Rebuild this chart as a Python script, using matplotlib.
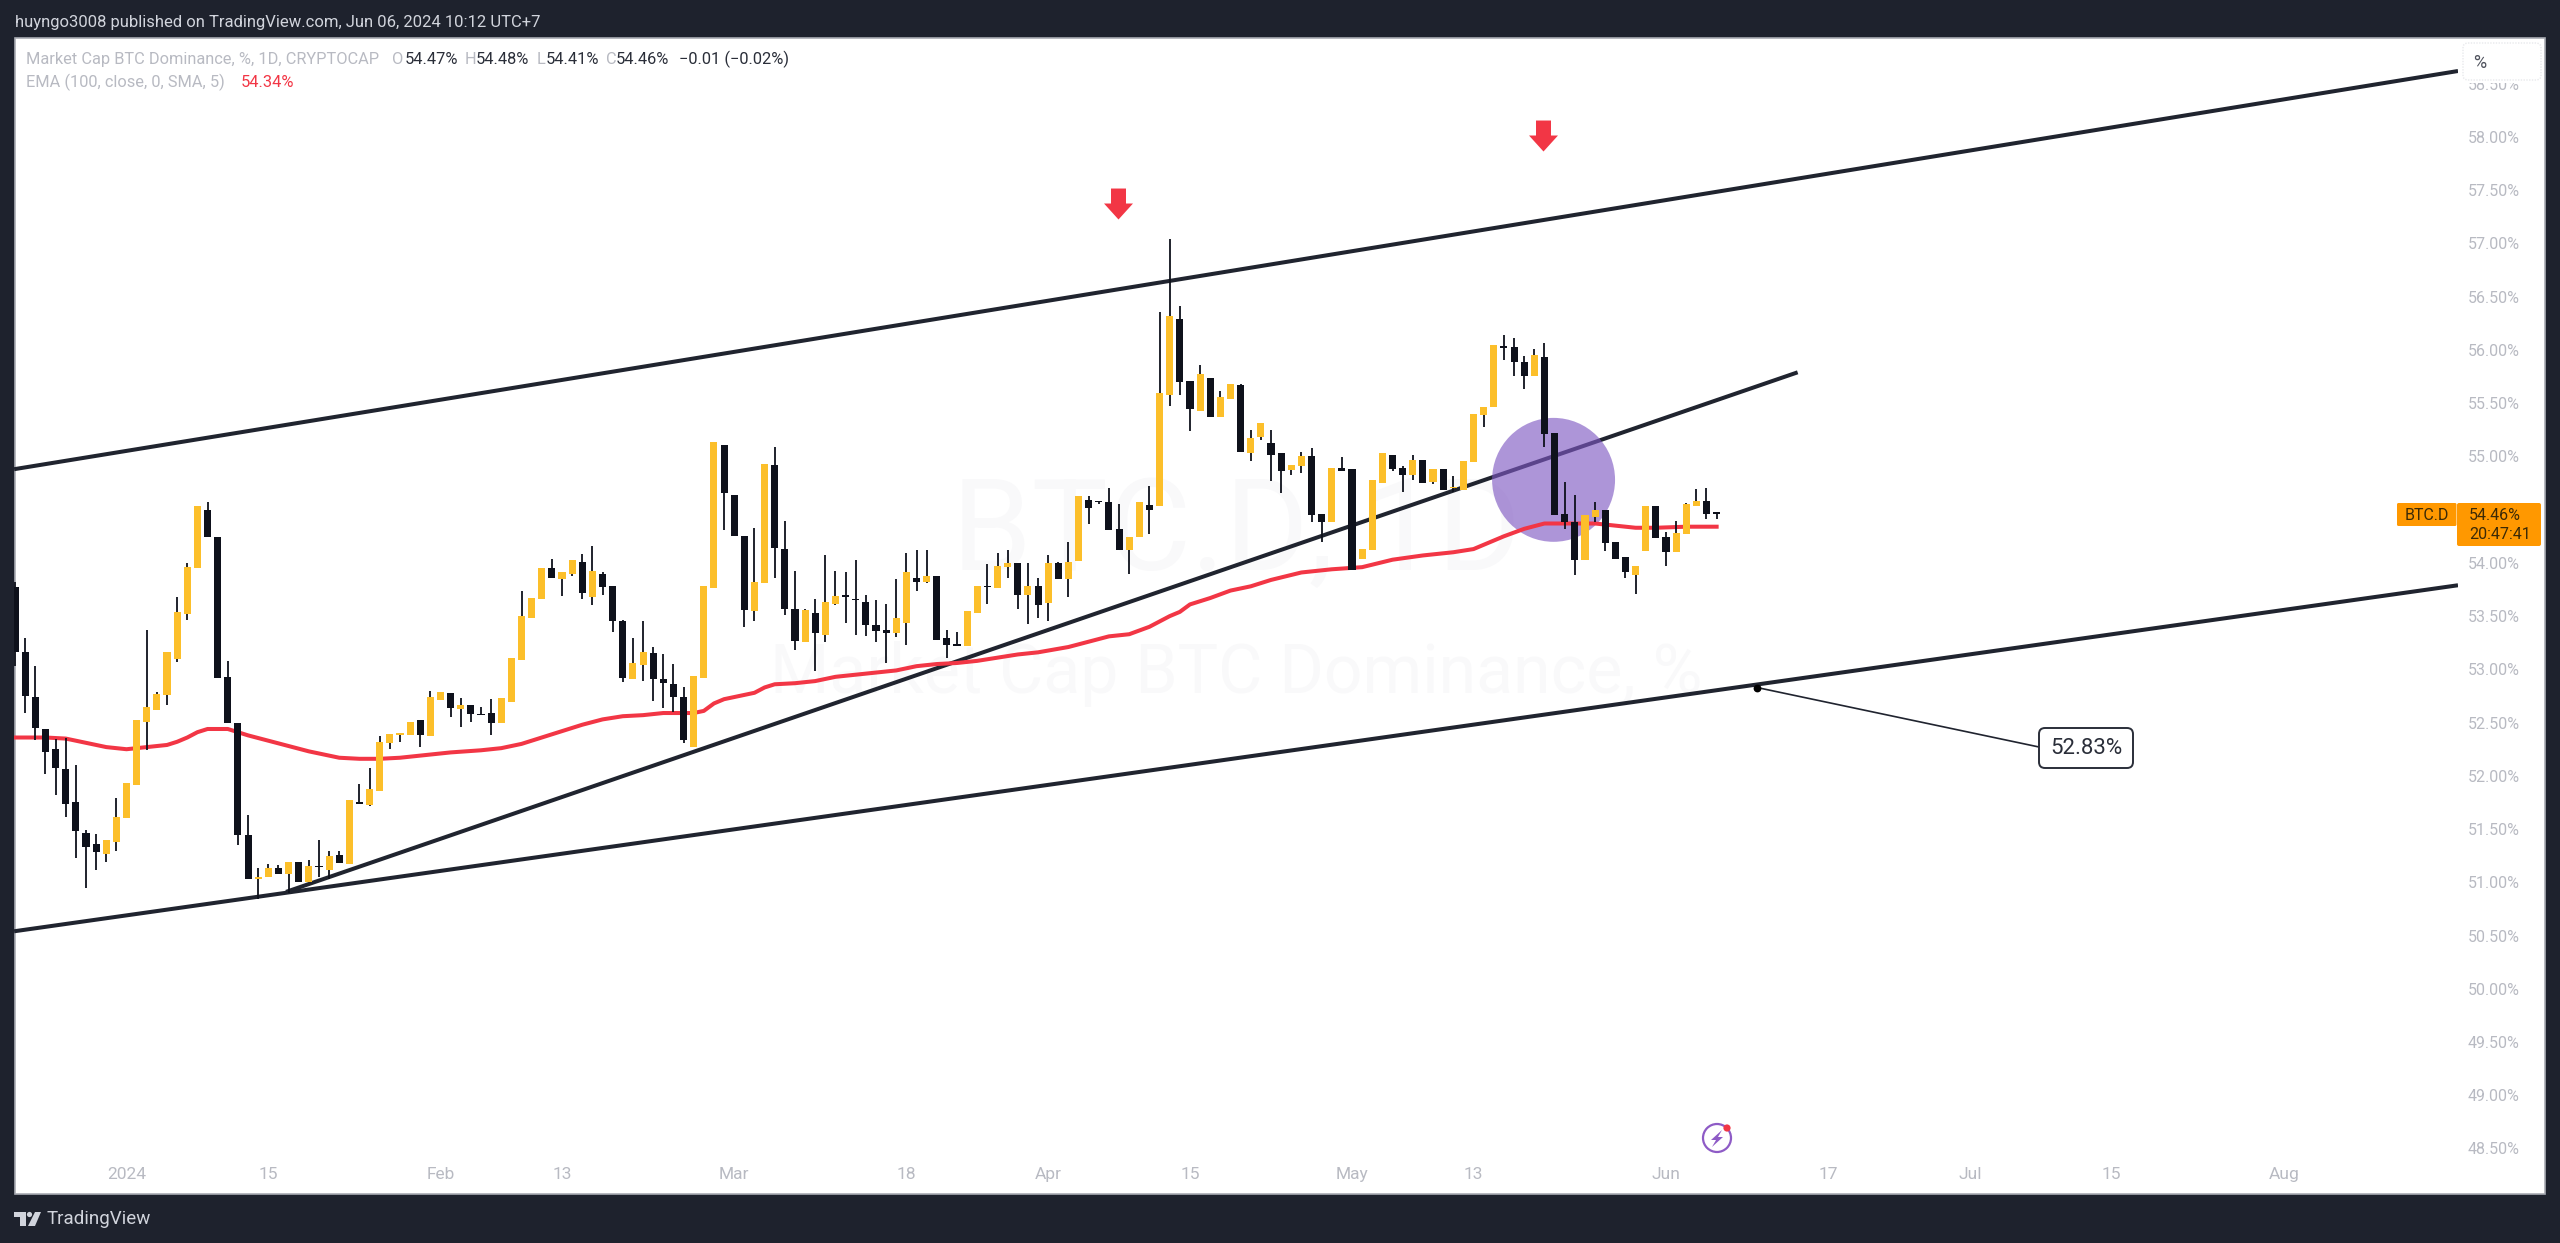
import matplotlib
matplotlib.use("Agg")
import matplotlib.pyplot as plt
from matplotlib.patches import Circle, Ellipse, FancyBboxPatch, Polygon, Rectangle
from matplotlib.path import Path

plt.rcParams['font.family'] = ['Roboto', 'DejaVu Sans']

# =========================
# data (percent, one candle per day)
# =========================
first_day = -11

opens = [
    53.77, 53.16, 52.74, 52.44, 52.25, 52.06, 51.75, 51.46, 51.36, 51.27,
    51.38, 51.60, 51.91, 52.51, 52.62, 52.76, 53.10, 53.52, 53.95, 54.50,
    54.24, 52.93, 52.50, 51.44, 51.03, 51.05, 51.13, 51.08, 51.19, 51.00,
    51.15, 51.12, 51.26, 51.17, 51.75, 51.73, 51.86, 52.31, 52.38, 52.38,
    52.52, 52.37, 52.71, 52.78, 52.63, 52.67, 52.58, 52.59, 52.50, 52.69,
    53.09, 53.48, 53.66, 53.95, 53.85, 53.90, 54.01, 53.68, 53.90, 53.78,
    53.45, 52.91, 53.04, 53.15, 52.91, 52.86, 52.74, 52.27, 52.92, 53.76,
    55.11, 54.64, 54.25, 53.55, 53.81, 54.92, 54.13, 53.57, 53.26, 53.53,
    53.32, 53.61, 53.69, 53.66, 53.63, 53.42, 53.37, 53.34, 53.44, 53.86,
    53.82, 53.88, 53.29, 53.24, 53.22, 53.53, 53.78, 53.76, 53.96, 54.00,
    53.70, 53.78, 53.62, 54.00, 53.85, 54.02, 54.59, 54.58, 54.57, 54.32,
    54.12, 54.24, 54.54, 54.53, 55.58, 56.29, 55.71, 55.43, 55.74, 55.37,
    55.54, 55.67, 55.03, 55.18, 55.13, 55.03, 54.87, 54.91, 55.00, 54.46,
    54.38, 54.89, 54.88, 54.04, 54.12, 54.75, 55.01, 54.89, 54.83, 54.97,
    54.76, 54.88, 54.70, 54.68, 54.95, 55.39, 55.46, 56.03, 56.03, 55.89,
    55.76, 55.93, 55.22, 54.46, 54.38, 54.03, 54.43, 54.50, 54.20, 54.06,
    53.89, 54.11, 54.53, 54.24, 54.10, 54.27, 54.53, 54.58, 54.47,
]
highs = [
    53.82, 53.29, 53.03, 52.44, 52.35, 52.36, 52.10, 51.49, 51.45, 51.40,
    51.79, 51.93, 52.52, 53.37, 52.79, 53.16, 53.68, 54.00, 54.53, 54.57,
    54.24, 53.08, 52.50, 51.63, 51.13, 51.17, 51.16, 51.19, 51.19, 51.21,
    51.40, 51.29, 51.29, 51.77, 51.92, 52.07, 52.37, 52.39, 52.40, 52.51,
    52.52, 52.80, 52.79, 52.78, 52.73, 52.67, 52.65, 52.72, 52.73, 53.11,
    53.74, 53.67, 53.95, 54.04, 53.91, 54.03, 54.08, 54.16, 53.91, 53.78,
    53.46, 53.29, 53.45, 53.21, 53.14, 53.05, 52.83, 52.94, 53.78, 55.14,
    55.11, 54.64, 54.25, 54.33, 54.93, 55.09, 54.39, 53.92, 53.57, 53.66,
    54.07, 53.92, 53.91, 54.03, 53.70, 53.65, 53.61, 53.85, 54.09, 54.12,
    54.12, 53.88, 53.37, 53.35, 53.55, 53.78, 53.99, 54.09, 54.12, 54.00,
    54.00, 53.86, 54.07, 54.01, 54.20, 54.63, 54.63, 54.58, 54.70, 54.55,
    54.24, 54.57, 54.72, 56.36, 57.04, 56.41, 55.71, 55.86, 55.74, 55.61,
    55.68, 55.68, 55.25, 55.31, 55.25, 55.03, 54.92, 55.04, 55.08, 54.46,
    54.89, 54.99, 54.88, 54.13, 54.78, 55.03, 55.01, 54.91, 55.01, 54.97,
    54.88, 54.88, 54.82, 54.96, 55.40, 55.46, 56.05, 56.14, 56.11, 55.94,
    56.01, 56.07, 55.22, 54.76, 54.64, 54.45, 54.57, 54.50, 54.20, 54.06,
    53.97, 54.53, 54.53, 54.29, 54.39, 54.56, 54.69, 54.70, 54.48,
]
lows = [
    53.03, 52.59, 52.34, 52.02, 51.82, 51.61, 51.23, 50.95, 51.12, 51.19,
    51.29, 51.60, 51.91, 52.24, 52.62, 52.67, 53.07, 53.46, 53.95, 54.24,
    52.92, 52.50, 51.35, 51.03, 50.84, 51.05, 51.08, 50.90, 51.00, 51.00,
    51.05, 51.03, 51.18, 51.17, 51.74, 51.72, 51.86, 52.25, 52.32, 52.38,
    52.27, 52.37, 52.71, 52.55, 52.46, 52.51, 52.57, 52.38, 52.50, 52.69,
    53.09, 53.48, 53.66, 53.86, 53.69, 53.88, 53.66, 53.60, 53.70, 53.35,
    52.88, 52.91, 52.89, 52.70, 52.64, 52.60, 52.31, 52.27, 52.92, 53.76,
    54.31, 54.25, 53.40, 53.45, 53.81, 53.86, 53.51, 53.18, 53.26, 52.98,
    53.26, 53.60, 53.44, 53.32, 53.31, 53.26, 53.06, 53.30, 53.23, 53.74,
    53.81, 53.28, 53.11, 53.22, 53.22, 53.53, 53.61, 53.76, 53.86, 53.57,
    53.43, 53.48, 53.45, 53.85, 53.68, 54.02, 54.37, 54.55, 54.31, 54.12,
    53.90, 54.24, 54.27, 54.53, 55.47, 55.58, 55.24, 55.43, 55.37, 55.37,
    55.54, 55.04, 54.96, 55.15, 54.77, 54.66, 54.83, 54.84, 54.38, 54.20,
    54.38, 54.86, 53.93, 54.04, 54.12, 54.75, 54.86, 54.67, 54.78, 54.75,
    54.74, 54.68, 54.67, 54.68, 54.95, 55.28, 55.46, 55.91, 55.76, 55.63,
    55.76, 55.09, 54.45, 54.32, 53.89, 54.03, 54.38, 54.11, 54.04, 53.86,
    53.71, 54.11, 54.23, 53.97, 54.10, 54.27, 54.53, 54.41, 54.41,
]
closes = [
    53.16, 52.75, 52.45, 52.22, 52.07, 51.74, 51.48, 51.33, 51.28, 51.40,
    51.61, 51.93, 52.52, 52.65, 52.77, 53.16, 53.54, 53.96, 54.53, 54.24,
    52.92, 52.50, 51.44, 51.03, 51.05, 51.13, 51.08, 51.19, 51.00, 51.15,
    51.14, 51.25, 51.18, 51.77, 51.74, 51.88, 52.32, 52.39, 52.40, 52.51,
    52.38, 52.74, 52.79, 52.64, 52.67, 52.58, 52.57, 52.50, 52.73, 53.11,
    53.50, 53.67, 53.95, 53.86, 53.91, 54.03, 53.72, 53.92, 53.77, 53.45,
    52.92, 53.06, 53.16, 52.91, 52.87, 52.74, 52.34, 52.94, 53.78, 55.14,
    54.66, 54.25, 53.56, 53.82, 54.93, 54.14, 53.57, 53.27, 53.56, 53.34,
    53.63, 53.69, 53.68, 53.65, 53.42, 53.36, 53.34, 53.48, 53.91, 53.82,
    53.88, 53.28, 53.23, 53.22, 53.55, 53.78, 53.77, 53.97, 54.00, 53.70,
    53.78, 53.60, 54.00, 53.85, 54.01, 54.63, 54.52, 54.57, 54.31, 54.12,
    54.24, 54.57, 54.50, 55.60, 56.32, 55.70, 55.45, 55.77, 55.37, 55.56,
    55.68, 55.04, 55.17, 55.31, 55.01, 54.86, 54.92, 55.00, 54.45, 54.38,
    54.89, 54.86, 53.93, 54.13, 54.78, 55.03, 54.88, 54.83, 54.97, 54.75,
    54.88, 54.68, 54.71, 54.96, 55.40, 55.46, 56.05, 56.02, 55.89, 55.76,
    55.95, 55.21, 54.45, 54.38, 54.03, 54.45, 54.50, 54.19, 54.04, 53.91,
    53.97, 54.53, 54.23, 54.10, 54.28, 54.55, 54.58, 54.46, 54.46,
]

# EMA 100, days since 1 Jan 2024 and value, read at the visible bends
ema_days = [
    -11, -8, -6, -4, -2, 0, 2, 4, 5, 6, 7, 8, 9, 10, 11, 12, 14, 16, 18, 20,
    21, 23, 25, 27, 29, 32, 35, 37, 39, 41, 43, 45, 47, 49, 51, 53, 56, 57, 58,
    59, 60, 61, 62, 63, 64, 66, 68, 70, 72, 74, 76, 78, 80, 82, 84, 86, 88, 90,
    93, 95, 97, 99, 101, 102, 103, 104, 105, 107, 109, 111, 113, 116, 119, 122,
    125, 128, 131, 133, 134, 136, 138, 140, 142, 145, 147, 149, 151, 154, 157,
]
ema_values = [
    52.36, 52.36, 52.35, 52.31, 52.27, 52.25, 52.27, 52.29, 52.32, 52.36,
    52.41, 52.44, 52.44, 52.44, 52.41, 52.38, 52.33, 52.28, 52.23, 52.19,
    52.17, 52.16, 52.16, 52.17, 52.19, 52.22, 52.24, 52.26, 52.30, 52.36,
    52.42, 52.48, 52.53, 52.56, 52.57, 52.59, 52.59, 52.61, 52.68, 52.72,
    52.74, 52.76, 52.78, 52.83, 52.86, 52.87, 52.89, 52.93, 52.95, 52.97,
    52.99, 53.03, 53.05, 53.06, 53.08, 53.11, 53.14, 53.16, 53.21, 53.26,
    53.31, 53.33, 53.40, 53.45, 53.50, 53.54, 53.61, 53.67, 53.74, 53.78,
    53.84, 53.91, 53.94, 53.96, 54.03, 54.07, 54.10, 54.13, 54.17, 54.25,
    54.32, 54.37, 54.37, 54.37, 54.35, 54.33, 54.33, 54.34, 54.34,
]

# drawings: (day, percent) end points
channel_top = ([-11.1, 230.2], [54.88, 58.62])
channel_bottom = ([-11.1, 230.2], [50.54, 53.79])
support_line = ([15.75, 165.0], [50.91, 55.79])
note_day, note_value = 161.0, 52.83
arrow_days = [97.9, 139.9]
arrow_tips = [57.23, 57.87]

price_ticks = [48.5, 49.0, 49.5, 50.0, 50.5, 51.0, 51.5, 52.0, 52.5, 53.0, 53.5,
               54.0, 54.5, 55.0, 55.5, 56.0, 56.5, 57.0, 57.5, 58.0, 58.5]
time_ticks = [0, 14, 31, 43, 60, 77, 91, 105, 121, 133, 152, 168, 182, 196, 213]
time_labels = ["2024", "15", "Feb", "13", "Mar", "18", "Apr", "15", "May", "13",
               "Jun", "17", "Jul", "15", "Aug"]

# =========================
# colours
# =========================
DARK = "#1e222d"
INK = "#0e111b"
LINE = "#20242f"
UP = "#fcbf2a"
RED = "#f23645"
GREY = "#b8bac2"
ORANGE = "#ff9800"
W, H = 2560, 1243


def axes_rect(left, top, right, bottom):
    return [left / W, 1 - bottom / H, (right - left) / W, (bottom - top) / H]


fig = plt.figure(figsize=(W / 100, H / 100), dpi=100, facecolor=DARK)

# frame and panel, in picture pixels
back = fig.add_axes([0, 0, 1, 1], zorder=0)
back.set_xlim(0, W)
back.set_ylim(H, 0)
back.axis('off')
back.add_patch(Rectangle((14.5, 38), 2530, 1155.5, fc="white", ec="#a9abb3", lw=1.2))
back.text(15, 22, "huyngo3008 published on TradingView.com, Jun 06, 2024 10:12 UTC+7",
          color="#d1d4dc", fontsize=12.0, va='center')

# TradingView logo
logo = "#d1d4dc"
back.add_patch(Polygon([(14, 1212), (26, 1212), (26, 1226), (20, 1226), (20, 1217), (14, 1217)], fc=logo, lw=0))
back.add_patch(Circle((29.5, 1214.5), 2.6, fc=logo, lw=0))
back.add_patch(Polygon([(35, 1212), (41, 1212), (35, 1226), (28, 1226)], fc=logo, lw=0))
back.text(47, 1219, "TradingView", color=logo, fontsize=13.5, va='center')

# price chart
ax = fig.add_axes(axes_rect(14, 38, 2458, 1157), zorder=1)
ax.patch.set_alpha(0)
ax.set_xlim(-11.11, 230.2)
ax.set_ylim(48.42, 58.93)
for side in ax.spines:
    ax.spines[side].set_visible(False)
ax.yaxis.tick_right()
ax.set_yticks(price_ticks)
ax.set_yticklabels([f"{v:.2f}%" for v in price_ticks], fontsize=11.5, color=GREY)
ax.set_xticks(time_ticks)
ax.set_xticklabels(time_labels, fontsize=12.5, color=GREY)
ax.tick_params(axis='both', length=0)
ax.tick_params(axis='y', pad=7.2)
ax.tick_params(axis='x', pad=7.0)

# watermark
ax.text(0.5, 0.556, "BTC.D, 1D", transform=ax.transAxes, ha='center', va='center',
        fontsize=92, color="#f9f9fa", zorder=0)
ax.text(0.5, 0.432, "Market Cap BTC Dominance, %", transform=ax.transAxes, ha='center',
        va='center', fontsize=49, color="#f9f9fa", zorder=0)

for xs, ys in (channel_top, channel_bottom, support_line):
    ax.plot(xs, ys, color=LINE, lw=2.9, zorder=1, solid_capstyle='butt')

ax.add_patch(Ellipse((140.9, 54.78), 12.14, 1.164, fc="#7e57c2", alpha=0.63, lw=0, zorder=2))
ax.plot(ema_days, ema_values, color=RED, lw=2.9, zorder=3, solid_joinstyle='round')

days = [first_day + i for i in range(len(opens))]
ax.vlines(days, lows, highs, color=INK, lw=1.3, zorder=4)
bottoms = [min(o, c) for o, c in zip(opens, closes)]
heights = [max(abs(c - o), 0.015) for o, c in zip(opens, closes)]
colors = [UP if c >= o else INK for o, c in zip(opens, closes)]
ax.bar(days, heights, bottom=bottoms, width=0.7, color=colors, lw=0, zorder=5)

# red arrows, tip at the anchor
arrow = Path([(-7.5, 31), (7.5, 31), (7.5, 16), (14.5, 16), (0, 0), (-14.5, 16), (-7.5, 16), (-7.5, 31)],
             closed=True)
ax.plot(arrow_days, arrow_tips, ls='none', marker=arrow, ms=44.6, mfc=RED, mew=0, zorder=6)

# overlay for the price note and the axis labels
top = fig.add_axes([0, 0, 1, 1], zorder=2)
top.set_xlim(0, W)
top.set_ylim(H, 0)
top.axis('off')
top.patch.set_alpha(0)

# callout: anchor comes from the data, box sits at its pixel place
note_x = 126.5 + 10.13 * note_day
note_y = 137 + (58 - note_value) * 106.5
top.plot([note_x, 2039], [note_y, 747], color=LINE, lw=1.2, zorder=1)
top.plot([note_x], [note_y], 'o', color="black", ms=4.6, zorder=2)
top.add_patch(FancyBboxPatch((2043, 732), 86, 32, boxstyle="round,pad=4,rounding_size=6",
                             fc="white", ec="#2a2e39", lw=1.4, zorder=2))
top.text(2086, 748, "52.83%", ha='center', va='center', fontsize=16, color="#2a2e39", zorder=3)

# % box at the top of the scale, it covers the upper half of the 58.50% label
top.add_patch(Rectangle((2462, 42), 80, 41, fc="white", lw=0))
top.add_patch(FancyBboxPatch((2467, 47), 70, 29, boxstyle="round,pad=4,rounding_size=5",
                             fc="white", ec="#e8e9ec", lw=1, ls=(0, (1, 1))))
top.text(2480, 63, "%", ha='center', va='center', fontsize=13, color="#50535e")

# last price labels
top.add_patch(FancyBboxPatch((2398, 504), 57.5, 21, boxstyle="round,pad=1,rounding_size=1.5", fc=ORANGE, lw=0))
top.add_patch(FancyBboxPatch((2458, 504), 82, 41, boxstyle="round,pad=1,rounding_size=2", fc=ORANGE, lw=0))
top.text(2427, 515, "BTC.D", ha='center', va='center', fontsize=11.5, color="#3b2a07")
top.text(2469, 515, "54.46%", ha='left', va='center', fontsize=11.5, color="#3b2a07")
top.text(2469, 534, "20:47:41", ha='left', va='center', fontsize=11.5, color="#3b2a07")

# legend, two lines
top.text(26, 59, "Market Cap BTC Dominance, %, 1D, CRYPTOCAP", color=GREY, fontsize=11.8, va='center')
for x, txt, col in [(392, "O", GREY), (405, "54.47%", "#2a2e39"), (465, "H", GREY), (476, "54.48%", "#2a2e39"),
                    (537, "L", GREY), (546, "54.41%", "#2a2e39"), (606, "C", GREY), (616, "54.46%", "#2a2e39"),
                    (679, "\u22120.01 (\u22120.02%)", "#2a2e39")]:
    top.text(x, 59, txt, color=col, fontsize=11.8, va='center')
top.text(26, 82, "EMA (100, close, 0, SMA, 5)", color=GREY, fontsize=11.8, va='center')
top.text(241, 82, "54.34%", color=RED, fontsize=11.8, va='center')

# bolt icon
top.add_patch(Circle((1717, 1138), 14, fc="white", ec="#8e5bc6", lw=1.6))
top.add_patch(Polygon([(1722, 1130), (1711, 1140), (1716, 1140), (1712, 1147), (1723, 1137), (1718, 1137)],
                      fc="#8e5bc6", lw=0))
top.add_patch(Circle((1727, 1128), 3.6, fc=RED, lw=0))

fig.savefig("out.png", dpi=100, facecolor=DARK)
